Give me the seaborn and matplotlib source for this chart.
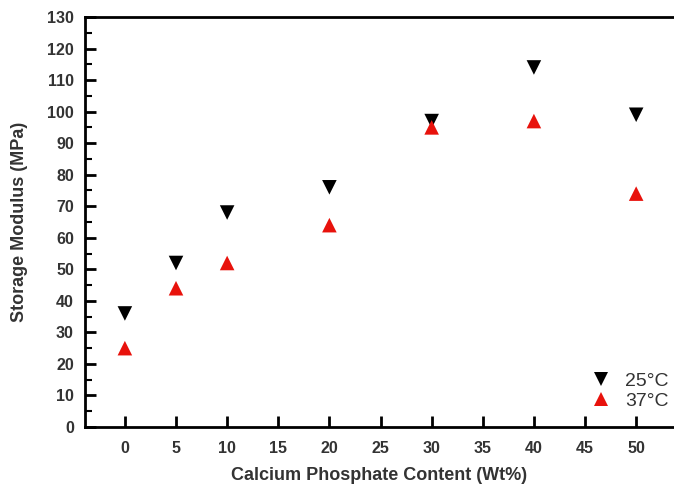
import matplotlib
matplotlib.use("Agg")
import matplotlib.pyplot as plt
import seaborn as sns
import pandas as pd
from matplotlib.ticker import MultipleLocator

content = [0, 5, 10, 20, 30, 40, 50]
modulus_25 = [36, 52, 68, 76, 97, 114, 99]
modulus_37 = [25, 44, 52, 64, 95, 97, 74]
series_labels = ["25°C", "37°C"]

df = pd.DataFrame({
    "content": content * 2,
    "modulus": modulus_25 + modulus_37,
    "temp": [series_labels[0]] * len(content) + [series_labels[1]] * len(content),
})

sns.set_style("white")
plt.rcParams['font.family'] = ['Liberation Sans', 'DejaVu Sans']

fig = plt.figure(figsize=(6.74, 4.86), dpi=100)
ax = fig.add_axes([85/674, 1-427/486, 589/674, 410/486])

sns.scatterplot(data=df, x="content", y="modulus", hue="temp", style="temp",
                palette={series_labels[0]: "black", series_labels[1]: "#e8120c"},
                markers={series_labels[0]: "v", series_labels[1]: "^"},
                s=110, linewidth=0, ax=ax, legend=True)

ax.set_xlim(-3.9, 53.7)
ax.set_ylim(0, 130)
ax.xaxis.set_major_locator(MultipleLocator(5))
ax.yaxis.set_major_locator(MultipleLocator(10))
ax.yaxis.set_minor_locator(MultipleLocator(5))

for s in ["left", "bottom", "top"]:
    ax.spines[s].set_color("black")
    ax.spines[s].set_linewidth(2)
ax.spines["right"].set_visible(False)

tc = "#333333"
ax.tick_params(axis="both", which="major", direction="in", length=8, width=2,
               color="black", labelsize=11.5, labelcolor=tc, pad=10)
ax.tick_params(axis="y", which="minor", direction="in", length=5, width=1.5, color="black", left=True)
ax.tick_params(axis="x", which="major", bottom=True)
ax.tick_params(axis="y", which="major", left=True, pad=8)
for lab in ax.get_xticklabels() + ax.get_yticklabels():
    lab.set_fontweight("bold")

ax.set_xlabel("Calcium Phosphate Content (Wt%)", fontsize=13, fontweight="bold", color=tc, labelpad=8)
ax.set_ylabel("Storage Modulus (MPa)", fontsize=13, fontweight="bold", color=tc, labelpad=14)

leg = ax.legend(loc="lower right", bbox_to_anchor=(1.02, 0.0), frameon=False,
                fontsize=14, handletextpad=0.2, labelspacing=0.1, markerscale=1.0)
for t in leg.get_texts():
    t.set_color(tc)

fig.savefig("out.png", dpi=100)
